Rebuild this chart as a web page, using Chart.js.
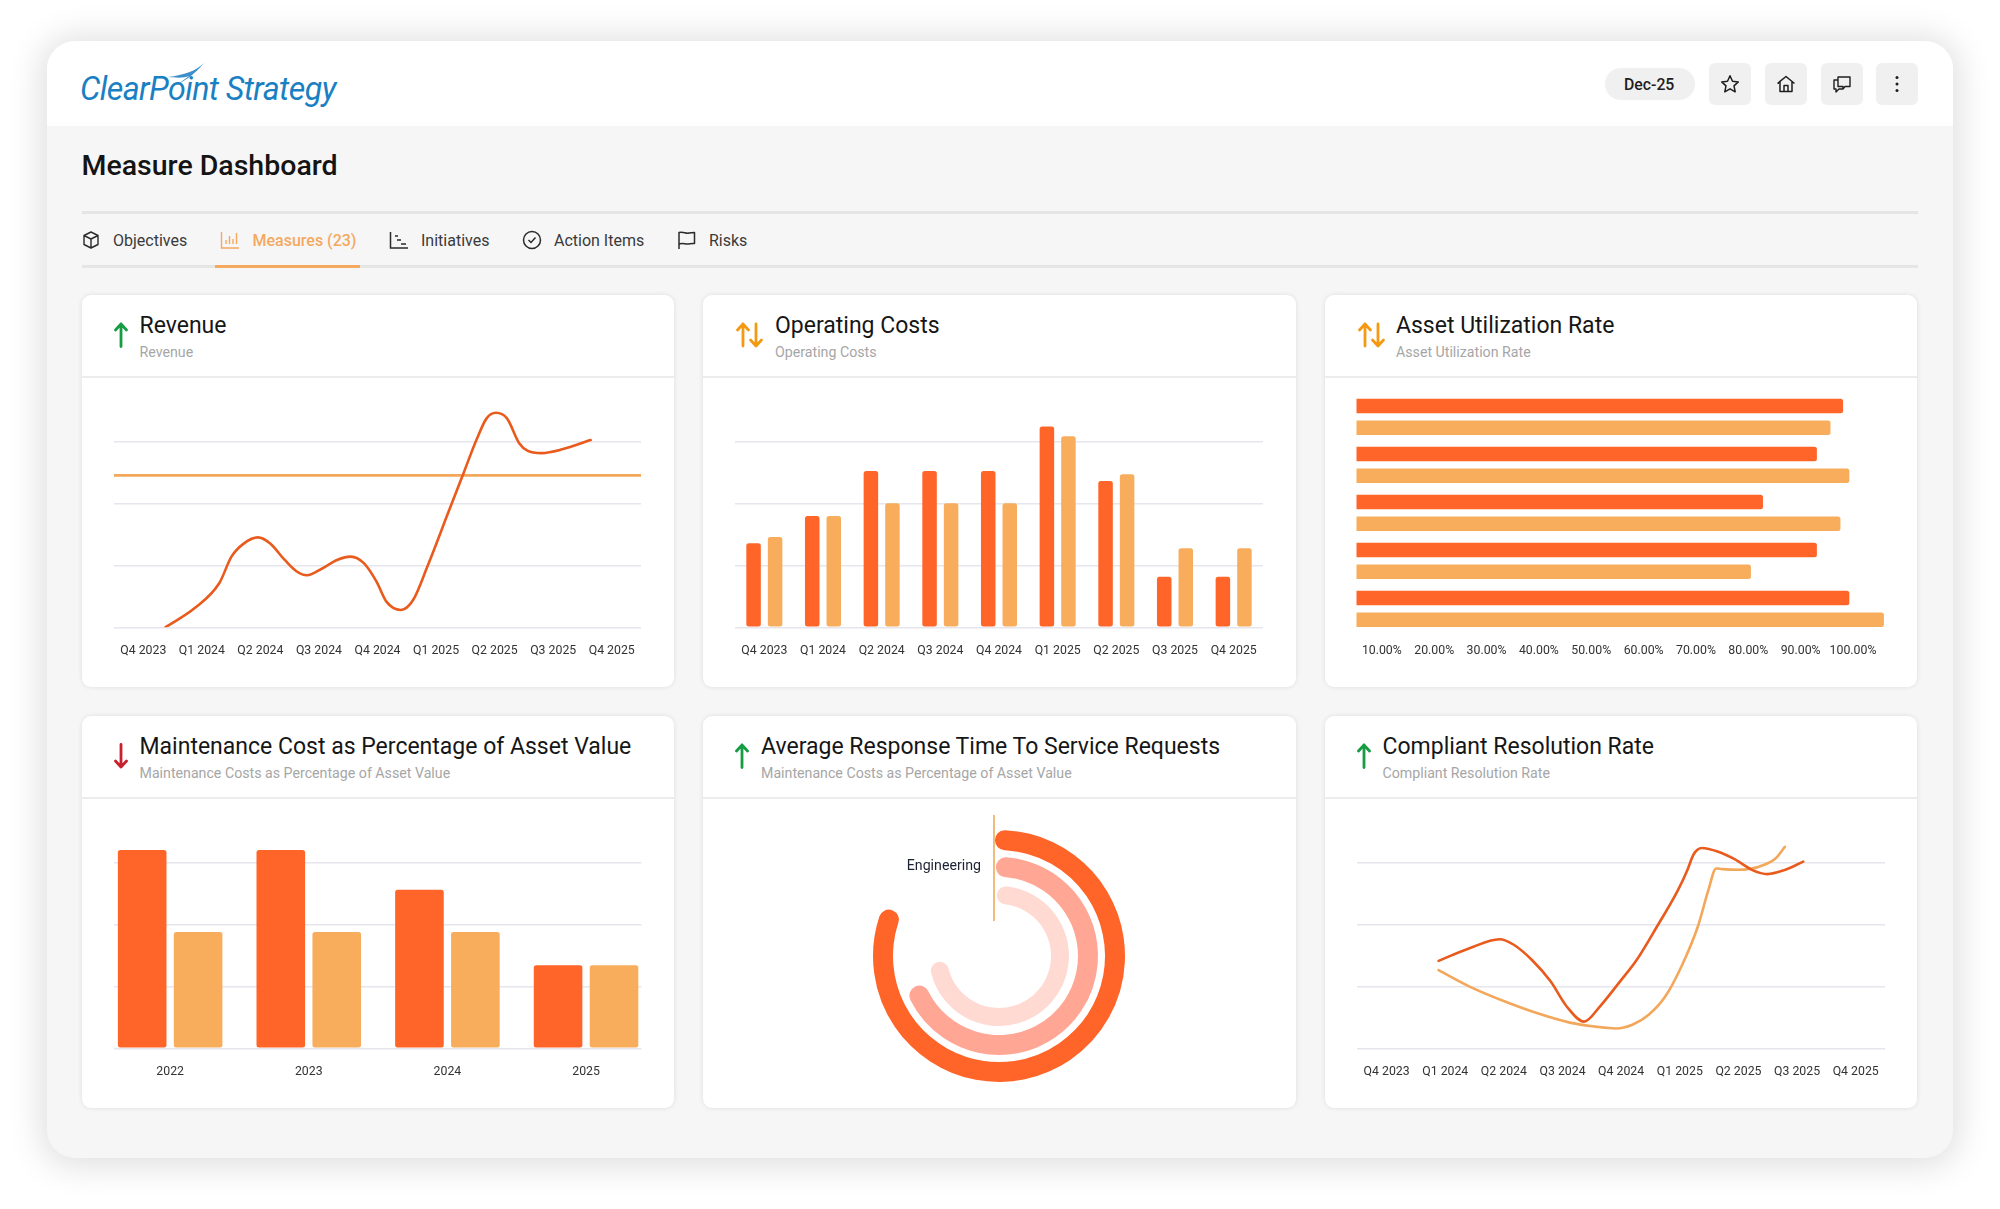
<!DOCTYPE html>
<html><head><meta charset="utf-8"><title>Measure Dashboard</title>
<script src="https://cdn.jsdelivr.net/npm/chart.js@4"></script>
<style>
html,body{margin:0;padding:0;width:2000px;height:1209px;background:#fff;overflow:hidden;font-family:Roboto,sans-serif}
.abs{position:absolute}
#panel{position:absolute;left:47px;top:41px;width:1906px;height:1117px;border-radius:28px;background:#f6f6f6;box-shadow:0 2px 34px 6px rgba(0,0,0,.13);overflow:hidden}
#head{position:absolute;left:0;top:0;width:100%;height:85px;background:#fff}
.t{position:absolute;white-space:nowrap;transform:translateY(-50%)}
.card{position:absolute;width:592px;height:392px;background:#fff;border-radius:9px;box-shadow:0 0 5px rgba(0,0,0,.10)}
.card .hl{position:absolute;left:0;right:0;top:81px;height:2px;background:#ececec}
.title{font-size:23px;color:#161616;font-weight:400;top:30px}
.sub{font-size:14.2px;color:#a6a6a6;top:57px}
.arrow{position:absolute;top:27px}
.tab{font-size:16px;color:#3a3a3a;top:240px}
.ic{position:absolute}
.btn{position:absolute;top:63px;width:42px;height:42px;background:#f0f0f0;border-radius:6px}
canvas{position:absolute}
</style></head>
<body>
<div id="panel"><div id="head"></div></div>

<!-- logo -->
<div class="t" id="logo" style="left:80px;top:88px;font:italic 400 33px Roboto,sans-serif;color:#1a7fc3;letter-spacing:-.6px;transform:translateY(-50%) scaleX(.975);transform-origin:left center">ClearPoint Strategy</div>
<svg class="ic" style="left:160px;top:60px" width="50" height="26" viewBox="0 0 50 26"><path d="M44 3 C36 11 24 15 8 17 C18 18 24 18 29 16 C24 20 20 22 17 25 C26 20 36 13 44 3Z" fill="#3d8fcb"/></svg>

<div class="t" style="left:81.5px;top:165px;font-size:28.5px;font-weight:500;color:#141414">Measure Dashboard</div>

<div class="abs" style="left:81.5px;top:211px;width:1836px;height:2.5px;background:#e5e5e5"></div>
<div class="abs" style="left:81.5px;top:265px;width:1836px;height:3px;background:#e5e5e5"></div>
<div class="abs" style="left:214.5px;top:265px;width:145px;height:3px;background:#f4a95f"></div>

<svg class="ic" style="left:81px;top:230px" width="20" height="20" viewBox="0 0 20 20" fill="none" stroke="#2b2b2b" stroke-width="1.4" stroke-linejoin="round"><path d="M10 2 L17 5.5 V14.5 L10 18 L3 14.5 V5.5Z M3 5.5 L10 9 L17 5.5 M10 9 V18"/></svg>
<div class="t tab" style="left:113px">Objectives</div>
<svg class="ic" style="left:220px;top:230px" width="20" height="20" viewBox="0 0 20 20" fill="none" stroke="#f4a95f" stroke-width="1.4"><path d="M1.5 2 V18 H19 M6 14 V10 M9.500 14 V6 M13 14 V9 M16.500 14 V3"/></svg>
<div class="t tab" style="left:252.500px;color:#f4a95f;font-weight:500">Measures (23)</div>
<svg class="ic" style="left:389px;top:230px" width="20" height="20" viewBox="0 0 20 20" fill="none" stroke="#2b2b2b" stroke-width="1.5"><path d="M1.500 2 V18 H19 M6 6 H9 M8 10 H12 M12 14 H17"/></svg>
<div class="t tab" style="left:421px">Initiatives</div>
<svg class="ic" style="left:522px;top:230px" width="20" height="20" viewBox="0 0 20 20" fill="none" stroke="#2b2b2b" stroke-width="1.5"><circle cx="10" cy="10" r="8.500"/><path d="M6.500 10 L9 12.500 L13.500 7.500"/></svg>
<div class="t tab" style="left:554px">Action Items</div>
<svg class="ic" style="left:677px;top:230px" width="20" height="20" viewBox="0 0 20 20" fill="none" stroke="#2b2b2b" stroke-width="1.5" stroke-linejoin="round"><path d="M2 19 V2.500 C6 1 9 4 12 3 C14 2.500 16 2.500 17.500 2.500 V13.500 C14 13 12 14.500 9 14 C6 13.500 4 13 2 14"/></svg>
<div class="t tab" style="left:709px">Risks</div>

<div class="abs" style="left:1604.500px;top:68px;width:90.500px;height:32px;border-radius:16px;background:#f0f0f0"></div>
<div class="t" style="left:1624px;top:84px;font-size:15.800px;font-weight:500;color:#1e1e1e">Dec-25</div>
<div class="btn" style="left:1709px"><svg class="ic" style="left:11px;top:11px" width="20" height="20" viewBox="0 0 20 20" fill="none" stroke="#1e1e1e" stroke-width="1.500" stroke-linejoin="round"><path d="M10 1.800 L12.500 7.300 L18.300 7.900 L14 11.900 L15.200 17.800 L10 14.800 L4.800 17.800 L6 11.900 L1.700 7.900 L7.500 7.300Z"/></svg></div>
<div class="btn" style="left:1765px"><svg class="ic" style="left:11px;top:11px" width="20" height="20" viewBox="0 0 20 20" fill="none" stroke="#1e1e1e" stroke-width="1.500" stroke-linejoin="round"><path d="M1.500 9.500 L10 2.500 L18.500 9.500 M4 8 V17.500 H16 V8 M8 17.500 V11.500 H12 V17.500"/></svg></div>
<div class="btn" style="left:1821px"><svg class="ic" style="left:11px;top:11px" width="20" height="20" viewBox="0 0 20 20" fill="none" stroke="#1e1e1e" stroke-width="1.400" stroke-linejoin="round"><path d="M6 3 H18 V12.500 H13 L11 15 V12.500 H6Z M6 6 H2 V15 H4 V18 L7 15 H11"/></svg></div>
<div class="btn" style="left:1876px"><svg class="ic" style="left:11px;top:11px" width="20" height="20" viewBox="0 0 20 20" fill="#1e1e1e"><circle cx="10" cy="3.500" r="1.500"/><circle cx="10" cy="10" r="1.500"/><circle cx="10" cy="16.500" r="1.500"/></svg></div>

<!-- row 1 -->
<div class="card" style="left:82px;top:295px"><div class="hl"></div>
  <svg class="arrow" style="left:31px" width="16" height="26" viewBox="0 0 16 26" fill="none" stroke="#169c43" stroke-width="2.800" stroke-linecap="round" stroke-linejoin="round"><path d="M8 24.500 V2 M2.500 8 L8 2 L13.500 8"/></svg>
  <div class="t title" style="left:57.500px">Revenue</div><div class="t sub" style="left:57.500px">Revenue</div></div>
<div class="card" style="left:703px;top:295px;width:593px"><div class="hl"></div>
  <svg class="arrow" style="left:31.500px" width="30" height="26" viewBox="0 0 30 26" fill="none" stroke="#f39a12" stroke-width="2.800" stroke-linecap="round" stroke-linejoin="round"><path d="M8 24 V2 M2.500 8 L8 2 L13.500 8 M21 2 V24 M15.500 18 L21 24 L26.500 18"/></svg>
  <div class="t title" style="left:72px">Operating Costs</div><div class="t sub" style="left:72px">Operating Costs</div></div>
<div class="card" style="left:1325px;top:295px"><div class="hl"></div>
  <svg class="arrow" style="left:31.500px" width="30" height="26" viewBox="0 0 30 26" fill="none" stroke="#f39a12" stroke-width="2.800" stroke-linecap="round" stroke-linejoin="round"><path d="M8 24 V2 M2.500 8 L8 2 L13.500 8 M21 2 V24 M15.500 18 L21 24 L26.500 18"/></svg>
  <div class="t title" style="left:71px">Asset Utilization Rate</div><div class="t sub" style="left:71px">Asset Utilization Rate</div></div>
<!-- row 2 -->
<div class="card" style="left:82px;top:716px"><div class="hl"></div>
  <svg class="arrow" style="left:31px" width="16" height="26" viewBox="0 0 16 26" fill="none" stroke="#c8202f" stroke-width="2.800" stroke-linecap="round" stroke-linejoin="round"><path d="M8 1.500 V24 M2.500 18 L8 24 L13.500 18"/></svg>
  <div class="t title" style="left:57.500px">Maintenance Cost as Percentage of Asset Value</div><div class="t sub" style="left:57.500px">Maintenance Costs as Percentage of Asset Value</div></div>
<div class="card" style="left:703px;top:716px;width:593px"><div class="hl"></div>
  <svg class="arrow" style="left:31px" width="16" height="26" viewBox="0 0 16 26" fill="none" stroke="#169c43" stroke-width="2.800" stroke-linecap="round" stroke-linejoin="round"><path d="M8 24.500 V2 M2.500 8 L8 2 L13.500 8"/></svg>
  <div class="t title" style="left:58px">Average Response Time To Service Requests</div><div class="t sub" style="left:58px">Maintenance Costs as Percentage of Asset Value</div></div>
<div class="card" style="left:1325px;top:716px"><div class="hl"></div>
  <svg class="arrow" style="left:31px" width="16" height="26" viewBox="0 0 16 26" fill="none" stroke="#169c43" stroke-width="2.800" stroke-linecap="round" stroke-linejoin="round"><path d="M8 24.500 V2 M2.500 8 L8 2 L13.500 8"/></svg>
  <div class="t title" style="left:57.500px">Compliant Resolution Rate</div><div class="t sub" style="left:57.500px">Compliant Resolution Rate</div></div>

<canvas id="c1" width="592" height="309" style="left:82px;top:378px"></canvas>
<canvas id="c2" width="593" height="309" style="left:703px;top:378px"></canvas>
<canvas id="c3" width="592" height="309" style="left:1325px;top:378px"></canvas>
<canvas id="c4" width="592" height="309" style="left:82px;top:799px"></canvas>
<canvas id="c5" width="500" height="300" style="left:749px;top:806px"></canvas>
<canvas id="c6" width="592" height="309" style="left:1325px;top:799px"></canvas>

<script>
// ---------- data ----------
const quarters = ['Q4 2023','Q1 2024','Q2 2024','Q3 2024','Q4 2024','Q1 2025','Q2 2025','Q3 2025','Q4 2025'];
const years = ['2022','2023','2024','2025'];
const yearPositions = [0,1,2,3];

const revenueX = [0.377,0.879,1.297,1.506,1.715,1.959,2.168,2.412,2.621,2.795,3.040,3.318,3.541,3.771,3.981,4.155,4.399,4.608,4.852,5.200,5.479,5.689,5.863,6.023,6.211,6.420,6.560,6.804,7.153,7.640];
const revenueY = [0,31,71,114,135,145,135,109,90,84,94,109,114,103,74,41,28,44,98,183,251,302,337,346,337,297,285,281,287,302];
const revenueTarget = 245;
const revenueTargetX = [-0.5,8.5];

const opCostActual = [135.5,179.6,252,252,252,323.7,236,81.7,81.7];
const opCostTarget = [145.7,179.6,200,200,200,308,246.8,127.4,127.4];

const assetRows = ['Row 1','Row 2','Row 3','Row 4','Row 5'];
const assetActual = [98.1,93.1,82.8,93.1,99.3];
const assetTarget = [95.7,99.3,97.6,80.5,105.9];
const assetTicks = [10,20,30,40,50,60,70,80,90,100];

const maintActual = [319.9,319.9,255.9,133.9];
const maintTarget = [187.6,187.6,187.6,133.9];

const radialLabels = ['Engineering'];
const radialOuter = [82,18];
const radialMiddle = [70,30];
const radialInner = [74,26];

const compliantAX = [0.886,1.402,1.925,2.169,2.483,2.796,3.075,3.368,3.633,3.982,4.261,4.609,4.958,5.132,5.237,5.377,5.656,5.934,6.248,6.492,6.771,7.106];
const compliantAY = [141,161,176,167,142,108,67,43,67,108,142,196,253,288,313,323,317,305,287,281,287,301];
const compliantBX = [0.886,1.471,2.029,2.587,3.145,3.563,3.912,4.191,4.470,4.749,5.028,5.307,5.481,5.621,5.725,6.004,6.353,6.632,6.792];
const compliantBY = [126,97,75,56,41,35,32,38,54,83,132,196,253,290,289,288,293,306,325];

const gridValues = [0,100,200,300];
// ---------- styling ----------
const DARK='#ff6429', LIGHT='#f7ad5c', LINE_DARK='#e95a1d', LINE_LIGHT='#f3a75a', GRID='#e6e6ee', TICK='#333';
Chart.defaults.font.family='Roboto, sans-serif';
Chart.defaults.color=TICK;
Chart.defaults.animation=false;
Chart.defaults.responsive=false;
Chart.defaults.plugins.legend.display=false;
Chart.defaults.plugins.tooltip.enabled=false;
const TICKFONT={size:12.3};

const pts=(xs,ys)=>xs.map((x,i)=>({x,y:ys[i]}));
const fixHeight=h=>s=>{s.height=h;};
const yGrid=()=>({min:0,max:400,
  ticks:{display:false,stepSize:100},
  afterFit:s=>{s.width=0;},
  border:{display:false},
  grid:{drawTicks:false,lineWidth:1.4,color:c=>gridValues.includes(c.tick.value)?GRID:'transparent'}});
const xCat=()=>({type:'category',offset:true,
  grid:{display:false,drawTicks:false},border:{display:false},
  ticks:{font:TICKFONT,padding:16,maxRotation:0,autoSkip:false},
  afterFit:fixHeight(59.7)});
const xPos=()=>({type:'linear',display:false,min:-0.5,max:8.5});
const lineDs=(data,color)=>({data,xAxisID:'xp',borderColor:color,backgroundColor:color,borderWidth:2.6,pointRadius:0,cubicInterpolationMode:'monotone',borderCapStyle:'round',borderJoinStyle:'round'});
const barDs=(data,color,o)=>Object.assign({data,backgroundColor:color,borderRadius:2.5,borderSkipped:false},o);

// Revenue
new Chart('c1',{type:'line',data:{labels:quarters,datasets:[
    lineDs(pts(revenueX,revenueY),LINE_DARK),
    lineDs(pts(revenueTargetX,revenueTargetX.map(()=>revenueTarget)),LINE_LIGHT)
  ]},
  options:{layout:{padding:{left:32,right:33,top:1.3,bottom:0}},
    scales:{x:xCat(),xp:xPos(),y:yGrid()}}});

// Operating costs
const op={categoryPercentage:.734,barPercentage:.674};
new Chart('c2',{type:'bar',data:{labels:quarters,datasets:[
    barDs(opCostActual,DARK,op),barDs(opCostTarget,LIGHT,op)]},
  options:{layout:{padding:{left:32,right:33,top:1.3,bottom:0}},
    scales:{x:xCat(),y:yGrid()}}});

// Asset utilization
const as={categoryPercentage:.904,barPercentage:.668};
new Chart('c3',{type:'bar',data:{labels:assetRows,datasets:[
    barDs(assetActual,DARK,as),barDs(assetTarget,LIGHT,as)]},
  options:{indexAxis:'y',layout:{padding:{left:31.5,right:33,top:14.8,bottom:0}},
    scales:{
      y:{display:false},
      x:{type:'linear',min:5.16,max:105.92,grid:{display:false,drawTicks:false},border:{display:false},
        afterBuildTicks:s=>{s.ticks=assetTicks.map(value=>({value}));},
        afterFit:fixHeight(54.2),
        ticks:{font:TICKFONT,padding:10.7,maxRotation:0,autoSkip:false,callback:v=>v.toFixed(2)+'%'}}
    }}});

// Maintenance cost
const mt={categoryPercentage:.807,barPercentage:.869};
new Chart('c4',{type:'bar',data:{datasets:[
    barDs(pts(yearPositions,maintActual),DARK,mt),barDs(pts(yearPositions,maintTarget),LIGHT,mt)]},
  options:{layout:{padding:{left:32,right:32.5,top:1.3,bottom:0}},
    scales:{
      x:{type:'linear',offset:false,min:-0.405,max:3.4,grid:{display:false,drawTicks:false},border:{display:false},
        afterBuildTicks:s=>{s.ticks=yearPositions.map(value=>({value}));},
        afterFit:fixHeight(59.7),
        ticks:{font:TICKFONT,padding:16,maxRotation:0,autoSkip:false,callback:v=>years[v]}},
      y:yGrid()}}});

// Radial
const radialMarker={id:'radialMarker',afterDatasetsDraw(chart){
  const m=chart.getDatasetMeta(0).data[0]; const ctx=chart.ctx;
  const x=m.x-5; const y=m.y;
  ctx.save();
  ctx.strokeStyle='#eda64f';ctx.lineWidth=1.5;
  ctx.beginPath();ctx.moveTo(x,y-141);ctx.lineTo(x,y-35);ctx.stroke();
  ctx.fillStyle='#1d2233';ctx.font='14.2px Roboto, sans-serif';ctx.textAlign='right';ctx.textBaseline='middle';
  ctx.fillText(radialLabels[0],x-13,y-90);
  ctx.restore();
}};
const ring=(data,color,weight)=>({data,weight,backgroundColor:[color,'transparent'],borderWidth:0,borderRadius:[11,0]});
const gap=(weight)=>({data:[100],weight,backgroundColor:'transparent',borderWidth:0});
new Chart('c5',{type:'doughnut',plugins:[radialMarker],data:{labels:[radialLabels[0],''],datasets:[
    ring(radialOuter,DARK,20),gap(7),ring(radialMiddle,'#ffa695',20),gap(9),ring(radialInner,'#ffdad3',18)]},
  options:{layout:{padding:24},rotation:-2,cutout:52,
    elements:{arc:{borderJoinStyle:'round'}}}});

// Compliant resolution
new Chart('c6',{type:'line',data:{labels:quarters,datasets:[
    lineDs(pts(compliantAX,compliantAY),LINE_DARK),
    lineDs(pts(compliantBX,compliantBY),LINE_LIGHT)]},
  options:{layout:{padding:{left:32.3,right:32,top:1.3,bottom:0}},
    scales:{x:xCat(),xp:xPos(),y:yGrid()}}});
</script>
</body></html>
